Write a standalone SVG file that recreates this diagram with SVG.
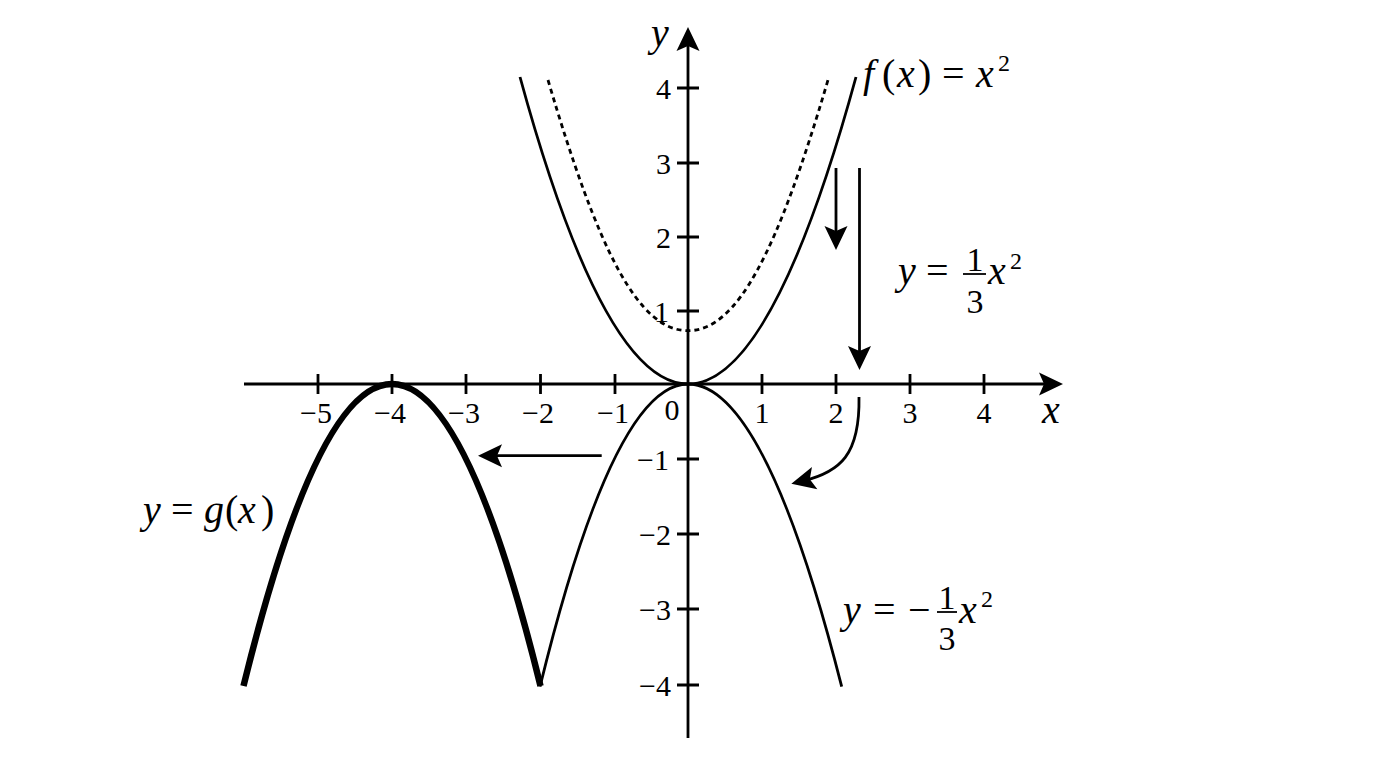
<svg xmlns="http://www.w3.org/2000/svg" width="1376" height="768" viewBox="0 0 1376 768">
<style>
.ln{stroke:#000;stroke-width:2.8;fill:none}
.thick{stroke-width:6.5}
.dot{stroke-dasharray:5 4}
.bar{stroke:#000;stroke-width:1.8}
text{font-family:"Liberation Serif","Times New Roman",serif;fill:#000}
.tk{font-size:30px}
.m{font-size:40px}
.it{font-style:italic}
.fr{font-size:34px;text-anchor:middle}
.sup{font-size:24px}
</style>
<defs>
<marker id="ah" viewBox="-25 -13 26 26" markerWidth="26" markerHeight="26" refX="-12" refY="0" orient="auto" markerUnits="userSpaceOnUse">
<path d="M0,0 L-24,-11.5 L-19,0 L-24,11.5 Z" fill="#000"/>
</marker>
</defs>
<rect width="1376" height="768" fill="#fff"/>
<g id="axes">
<path class="ln" d="M244,384 H1051" marker-end="url(#ah)"/>
<path class="ln" d="M688,738 V39" marker-end="url(#ah)"/>
<path class="ln" d="M318,374V394M392,374V394M466,374V394M540.5,374V394M615,374V394M762,374V394M836,374V394M910,374V394M984,374V394"/>
<path class="ln" d="M677,88H699M677,163H699M677,237H699M677,311H699M677,459H699M677,534H699M677,609H699M677,685H699"/>
</g>
<g id="tick-labels" class="tk">
<text x="316" y="423" text-anchor="middle">−5</text>
<text x="390" y="423" text-anchor="middle">−4</text>
<text x="464" y="423" text-anchor="middle">−3</text>
<text x="538" y="423" text-anchor="middle">−2</text>
<text x="613" y="423" text-anchor="middle">−1</text>
<text x="672" y="420" text-anchor="middle">0</text>
<text x="762" y="423" text-anchor="middle">1</text>
<text x="836" y="423" text-anchor="middle">2</text>
<text x="910" y="423" text-anchor="middle">3</text>
<text x="984" y="423" text-anchor="middle">4</text>
<text x="671" y="99" text-anchor="end">4</text>
<text x="671" y="174" text-anchor="end">3</text>
<text x="671" y="248" text-anchor="end">2</text>
<text x="669" y="322" text-anchor="end">1</text>
<text x="669" y="470" text-anchor="end">−1</text>
<text x="671" y="545" text-anchor="end">−2</text>
<text x="671" y="620" text-anchor="end">−3</text>
<text x="671" y="696" text-anchor="end">−4</text>
</g>
<g id="axis-labels" class="m it">
<text x="1042" y="423">x</text>
<text x="651" y="46">y</text>
</g>
<g id="curves">
<path id="f" class="ln" d="M520,77 Q688,691 856,77"/>
<path id="dotted" class="ln dot" d="M548,80 C598,249.7 638,330.7 688,330.7 C738,330.7 778,249.7 828,80"/>
<path id="neg" class="ln" d="M540,686.7 Q614,384 688,384 Q764.9,384 841.7,686.7"/>
<path id="g" class="ln thick" d="M243.5,686 Q392,82 540.5,686"/>
</g>
<g id="connectors">
<path class="ln" d="M836,168 V238" marker-end="url(#ah)"/>
<path class="ln" d="M859.5,168 V358" marker-end="url(#ah)"/>
<path class="ln" d="M601.7,455.7 H490" marker-end="url(#ah)"/>
<path class="ln" d="M859,397 C860,455 840,472 803,481" marker-end="url(#ah)"/>
</g>
<g id="label-f" class="m">
<text y="87"><tspan x="863" class="it">f</tspan><tspan x="882">(</tspan><tspan x="897" class="it">x</tspan><tspan x="918">)</tspan><tspan x="942">=</tspan><tspan x="976" class="it">x</tspan><tspan x="998" y="71" class="sup">2</tspan></text>
</g>
<g id="label-third">
<text class="m" y="284"><tspan x="898" class="it">y</tspan><tspan x="926">=</tspan><tspan x="988" class="it">x</tspan><tspan x="1010" y="269" class="sup">2</tspan></text>
<text class="fr" x="975" y="271">1</text>
<line class="bar" x1="963" y1="274" x2="986" y2="274"/>
<text class="fr" x="975" y="313">3</text>
</g>
<g id="label-negthird">
<text class="m" y="623"><tspan x="843" class="it">y</tspan><tspan x="873">=</tspan><tspan x="908">−</tspan><tspan x="959" class="it">x</tspan><tspan x="981" y="607" class="sup">2</tspan></text>
<text class="fr" x="947" y="609">1</text>
<line class="bar" x1="937" y1="612" x2="957" y2="612"/>
<text class="fr" x="947" y="650">3</text>
</g>
<g id="label-g" class="m">
<text y="523"><tspan x="143" class="it">y</tspan><tspan x="171">=</tspan><tspan x="204" class="it">g</tspan><tspan x="225">(</tspan><tspan x="238" class="it">x</tspan><tspan x="261">)</tspan></text>
</g>
</svg>
